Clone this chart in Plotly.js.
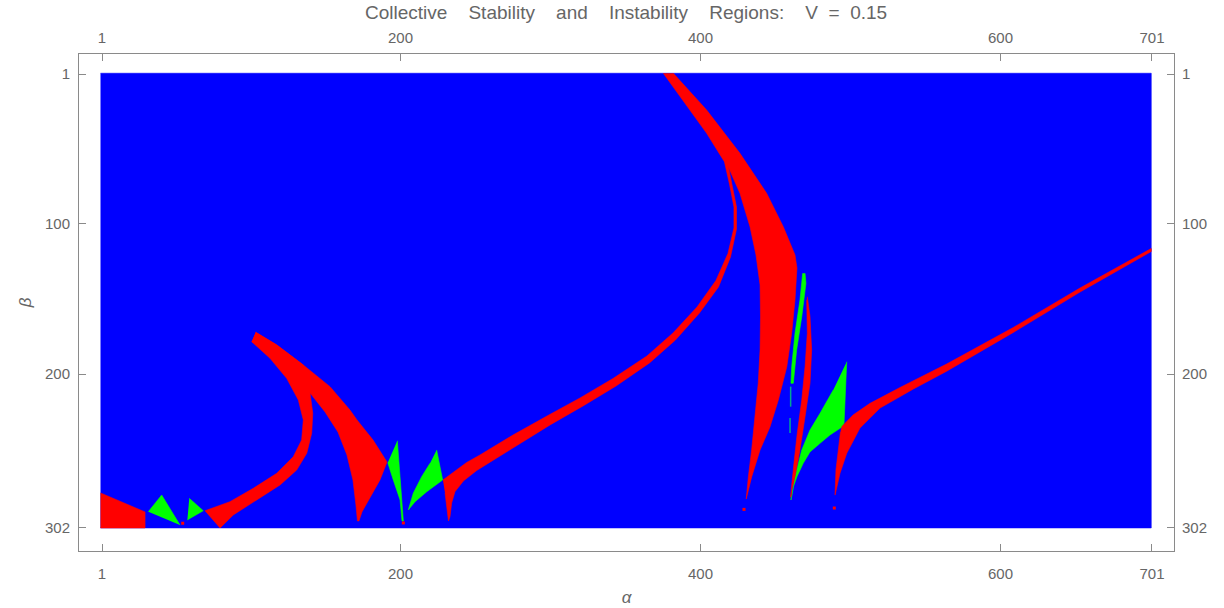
<!DOCTYPE html>
<html>
<head>
<meta charset="utf-8">
<script src="https://cdn.plot.ly/plotly-3.0.1.min.js"></script>
<style>html,body{margin:0;padding:0;background:#fff;}#chart{width:1224px;height:608px;}</style>
</head>
<body>
<div id="chart"></div>
<script>
// ---- Data: region boundaries (alpha, beta) ----
const gridAlpha = [0, 700.5];
const gridBeta = [0.5, 302];

const xTickVals = [1, 200, 400, 600, 701];
const yTickVals = [1, 100, 200, 302];

// red (instability) regions
const redCornerA = [0, 29.7, 29.7, 0];
const redCornerB = [278.8, 291.4, 302, 302];

const bandCA = [103.5,117.5,135.2,139.7,141.5,140.8,137.5,130.8,119.7,104.1,88.5,79.7,69.7,86.3,101.9,117.5,128.5,134.1,135.2,131.9,124.1,113,100.8];
const bandCB = [172.3,180.7,194.0,212.5,226.0,239.2,252.5,263.6,273.5,283.5,293.4,302,290.6,284.6,275.7,265.8,254.8,243.7,230.4,217.2,202.8,189.5,178.5];

const band2A = [103.5,117.5,135.2,153,166.3,171,181.7,191,186.3,179.7,174.3,172.3,171.3,170.3,168.3,164.3,158.3,149.7,139.7,126.3,113,100.8];
const band2B = [172.3,180.7,194.0,208.3,223.8,230.4,243.7,258.3,270.2,281.5,291.4,297.4,297.4,286.8,270.2,253.6,238.4,225.1,212.5,197.3,184.0,178.5];

const band3A = [228.3,236.3,244.1,253,275,297.7,319.7,341.7,364.3,381.7,397.7,410.3,418.3,422.3,422.3,419.3,415.7,
                417.7,421,424,424,420,412,399.3,383.3,366,343.7,321.7,299.7,277,261.9,250.8,241.9,236.3,234.1,233,232,231,229.7];
const band3B = [270.2,264.3,258.6,253.6,240.4,227.8,215.8,202.9,188.0,172.7,155.5,137.9,120.0,103.1,89.2,73.9,58.0,
                58.0,73.3,89.2,103.8,122.3,142.2,159.5,177.4,192.6,207.9,221.1,233.7,247.7,256.9,263.9,270.9,278.0,285.5,294.5,297.4,287.9,278.8];

const bigBandA = [375.2,393,404.1,415.2,417.7,426.3,433,437,439.7,440,439.7,438.5,436.3,434.1,431.9,430.3,430.5,430.8,434.1,439.7,446.3,451.9,457.5,460.8,463,464.3,463,455.2,444.1,426.3,404.1,381.9];
const bigBandB = [0.5,24.9,40.3,58.0,60.7,80.1,102.3,121.0,140.9,162.1,184.0,205.9,228.4,250.3,268.2,281.5,282.8,281.5,268.2,250.3,235.1,217.2,195.3,172.7,150.9,129.6,121.0,102.3,80.1,53.6,24.9,0.5];

const redSliverA = [471.2,473,474.1,473,469.7,466.3,463,460.8,460.3,460,462.3,464.5,467.5,469.7,471.2,470.8];
const redSliverB = [148.7,161.9,184.0,206.1,228.2,250.3,268.0,276.8,281.5,281.5,259.1,239.2,217.2,195.1,172.9,150.9];

const band4A = [494.1,501.7,513,533,564.1,608.5,653,700.5,700.5,653,608.5,564.1,541.9,519.7,506.3,497.5,493,490.8,489.7,490.3,491.7,493.3];
const band4B = [234.9,227.1,219.4,208.9,193.3,169.1,142.9,116.7,118.7,145.6,172.4,198.1,209.9,222.5,235.8,252.5,265.8,276.8,280.2,263.6,250.3,238.4];

const redDotsA = [429, 489.2, 201.9, 54.8];
const redDotsB = [289.7, 288.8, 298.7, 298.9];

// green regions
const greenTri1A = [31.9, 40.8, 53];
const greenTri1B = [291.2, 280.2, 300.1];
const greenTri2A = [59.2, 68.5, 57.9];
const greenTri2B = [282.4, 290.6, 296.7];
const greenShard1A = [197.9,199.2,200.8,201.9,201,199.7,195.2,191.5];
const greenShard1B = [244.2,263.6,281.3,297.4,297.4,283.5,270.2,258.7];
const greenShard2A = [224.1,226.3,228.1,217.5,209.7,205.2,208.5,214.1,219.7];
const greenShard2B = [250.3,261.4,270.2,278.0,284.6,290.1,279.0,268.0,259.1];
const greenSliverA = [469.7,470.3,467.5,464.1,461.9,460.3,460.8,463,466.3,468.1];
const greenSliverB = [133.2,139.8,161.9,184.0,206.1,206.1,195.1,172.9,150.9,133.2];
const greenTri3A = [497.5,496.7,495.7,494.3,486.3,479.7,473,468.5,464.3,461.9,460.3,461.9,463,467.5,473,479.7,488.5];
const greenTri3B = [191.8,213.9,232.6,235.1,240.4,245.9,251.6,259.1,268.0,274.7,283.5,276.8,268.0,250.3,237.1,226.0,210.5];

const tealDashA = [460.1, 460.1, null, 459.7, 459.7];
const tealDashB = [208.3, 221.6, null, 229.1, 239.0];

// ---- Build traces ----
const BLUE = '#0000ff', RED = '#ff0000', GREEN = '#00ff00';
function poly(a, b, color) {
  return {type:'scatter', mode:'lines', x:a, y:b, fill:'toself', fillcolor:color,
    line:{color:color, width:0.6}, hoverinfo:'skip', showlegend:false};
}
const traces = [];
traces.push(poly([gridAlpha[0], gridAlpha[1], gridAlpha[1], gridAlpha[0]],
                 [gridBeta[0], gridBeta[0], gridBeta[1], gridBeta[1]], BLUE));
[[greenTri1A,greenTri1B],[greenTri2A,greenTri2B],[greenShard1A,greenShard1B],
 [greenShard2A,greenShard2B],[greenSliverA,greenSliverB],[greenTri3A,greenTri3B]]
 .forEach(p => traces.push(poly(p[0], p[1], GREEN)));
[[redCornerA,redCornerB],[bandCA,bandCB],[band2A,band2B],[band3A,band3B],
 [bigBandA,bigBandB],[redSliverA,redSliverB],[band4A,band4B]]
 .forEach(p => traces.push(poly(p[0], p[1], RED)));
traces.push({type:'scatter', mode:'lines', x:tealDashA, y:tealDashB,
  line:{color:'#00a890', width:1.5}, hoverinfo:'skip', showlegend:false});
traces.push({type:'scatter', mode:'markers', x:redDotsA, y:redDotsB,
  marker:{color:RED, size:3, symbol:'square'}, hoverinfo:'skip', showlegend:false});
// invisible anchor for the mirrored (top/right) axes
traces.push({type:'scatter', mode:'markers', x:[1], y:[1], xaxis:'x2', yaxis:'y2',
  marker:{opacity:0}, hoverinfo:'skip', showlegend:false});

const FONT = 'Liberation Sans, Arial, sans-serif';
const LBL = {family:FONT, size:15, color:'#666'};
const xr = [-14.33, 715.67], yr = [317.3, -12.27];
const axBase = {showgrid:false, zeroline:false, showline:true, linecolor:'#8a8a8a', linewidth:1,
  ticks:'inside', ticklen:7, tickcolor:'#8a8a8a', tickwidth:1, tickfont:LBL, fixedrange:true};
const S4 = '\u00a0\u00a0\u00a0 ';

const layout = {
  width:1224, height:608,
  margin:{l:79, r:50, t:54, b:57},
  paper_bgcolor:'#fff', plot_bgcolor:'#fff',
  title:{text:'Collective' + S4 + 'Stability' + S4 + 'and' + S4 + 'Instability' + S4 + 'Regions:' + S4 + 'V\u00a0\u00a0=\u00a0\u00a00.15',
    font:{family:FONT, size:19, color:'#666'}, x:0.5115, xanchor:'center', y:0.979, yref:'container', yanchor:'middle'},
  xaxis:Object.assign({}, axBase, {range:xr, tickvals:xTickVals, ticktext:xTickVals.map(String),
    side:'bottom', ticklabelstandoff:9,
    title:{text:'<i>α</i>', font:{family:FONT, size:17, color:'#666'}, standoff:10}}),
  xaxis2:Object.assign({}, axBase, {range:xr, tickvals:xTickVals, ticktext:xTickVals.map(String),
    side:'top', overlaying:'x', anchor:'y', ticklabelstandoff:4}),
  yaxis:Object.assign({}, axBase, {range:yr, tickvals:yTickVals, ticktext:yTickVals.map(String),
    side:'left', ticklabelstandoff:5,
    title:{text:'<i>β</i>', font:{family:FONT, size:17, color:'#666'}, standoff:9}}),
  yaxis2:Object.assign({}, axBase, {range:yr, tickvals:yTickVals, ticktext:yTickVals.map(String),
    side:'right', overlaying:'y', anchor:'x', ticklabelstandoff:4})
};

Plotly.newPlot('chart', traces, layout, {displayModeBar:false, staticPlot:true});
</script>
</body>
</html>
